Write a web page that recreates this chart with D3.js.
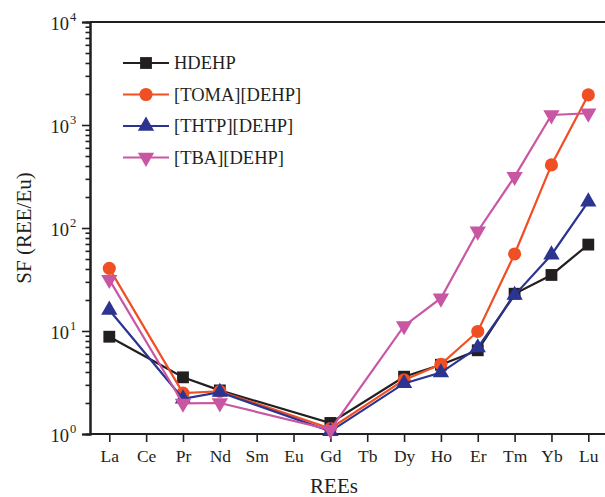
<!DOCTYPE html>
<html>
<head>
<meta charset="utf-8">
<script src="https://d3js.org/d3.v7.min.js"></script>
<style>
  body { margin: 0; background: #fff; }
  svg { display: block; }
  text { font-family: "Liberation Serif", "Times New Roman", serif; fill: #231f20; }
</style>
</head>
<body>
<div id="main-view-container"></div>
<script>
// Chart data
//

var elements = ["La", "Ce", "Pr", "Nd", "Sm", "Eu", "Gd", "Tb", "Dy", "Ho", "Er", "Tm", "Yb", "Lu"];
var series_names = ["HDEHP", "[TOMA][DEHP]", "[THTP][DEHP]", "[TBA][DEHP]"];

// null = not measured (Ce, Sm, Eu, Tb)
var hdehp = [8.8, null, 3.55, 2.65, null, null, 1.28, null, 3.6, 4.7, 6.5, 23, 35, 69];
var toma_dehp = [40.6, null, 2.5, 2.6, null, null, 1.13, null, 3.35, 4.75, 9.9, 56, 410, 1960];
var thtp_dehp = [16, null, 2.2, 2.55, null, null, 1.06, null, 3.1, 3.95, 6.9, 22.3, 55, 180];
var tba_dehp = [31.5, null, 1.98, 2.0, null, null, 1.1, null, 11.2, 20.8, 93, 315, 1250, 1300];

var y_major = [1, 10, 100, 1000, 10000];

// Helper functions
//

function minor_ticks(lo, hi) {
  // returns 2..9 times every decade between lo and hi
  var out = [];
  for (var d = lo; d < hi; d *= 10) {
    for (var k = 2; k <= 9; k++) {
      out.push(d * k);
    }
  }
  return out;
}

function to_points(values) {
  // pairs each value with its element, drops the missing ones
  var pts = [];
  values.forEach(function(v, i) {
    if (v !== null) {
      pts.push({ el: elements[i], value: v });
    }
  });
  return pts;
}

// Drawing
//

var width = 605, height = 497;
var plot = { left: 90, right: 607, top: 22, bottom: 434 };

var svg = d3.select("#main-view-container").append("svg")
  .attr("width", width)
  .attr("height", height);

var x_scale = d3.scalePoint()
  .domain(elements)
  .range([109.3, 588.3]);

var y_scale = d3.scaleLog()
  .domain([1, 10000])
  .range([plot.bottom, plot.top]);

var series = [
  { name: series_names[0], values: hdehp, color: "#231f20", symbol: d3.symbolSquare, size: 140, rotate: 0 },
  { name: series_names[1], values: toma_dehp, color: "#f04e23", symbol: d3.symbolCircle, size: 135, rotate: 0 },
  { name: series_names[2], values: thtp_dehp, color: "#2b3491", symbol: d3.symbolTriangle, size: 115, rotate: 0 },
  { name: series_names[3], values: tba_dehp, color: "#c956a3", symbol: d3.symbolTriangle, size: 115, rotate: 180 }
];

// top frame line
svg.append("line")
  .attr("x1", plot.left).attr("x2", plot.right)
  .attr("y1", plot.top).attr("y2", plot.top)
  .attr("stroke", "#231f20")
  .attr("stroke-width", 2);

// y axis: minor ticks, then major ticks with labels
var y_minor = svg.append("g")
  .attr("transform", "translate(" + plot.left + ",0)")
  .call(d3.axisLeft(y_scale).tickValues(minor_ticks(1, 10000)).tickSize(4.5).tickFormat(""));

var y_axis = svg.append("g")
  .attr("transform", "translate(" + plot.left + ",0)")
  .call(d3.axisLeft(y_scale).tickValues(y_major).tickSize(8).tickFormat(""));

[y_minor, y_axis].forEach(function(g) {
  g.select(".domain").attr("stroke", "#231f20").attr("stroke-width", 2);
  g.selectAll(".tick line").attr("stroke", "#231f20").attr("stroke-width", 1.6);
});

var y_labels = svg.append("g");
y_major.forEach(function(v) {
  var t = y_labels.append("text")
    .attr("x", 69)
    .attr("y", y_scale(v) + 8)
    .attr("text-anchor", "end")
    .style("font-size", "18.5px")
    .text("10");
  y_labels.append("text")
    .attr("x", 70)
    .attr("y", y_scale(v) - 1)
    .attr("text-anchor", "start")
    .style("font-size", "12.5px")
    .text(String(Math.round(Math.log10(v))));
});

// x axis
var x_axis = svg.append("g")
  .attr("transform", "translate(0," + plot.bottom + ")")
  .call(d3.axisBottom(x_scale).tickSize(8).tickPadding(8).tickSizeOuter(0));

x_axis.select(".domain")
  .attr("d", "M" + plot.left + ",0H" + plot.right)
  .attr("stroke", "#231f20").attr("stroke-width", 2);
x_axis.selectAll(".tick line").attr("stroke", "#231f20").attr("stroke-width", 1.6);
x_axis.selectAll(".tick text")
  .style("font-size", "17.5px")
  .style("font-family", "Liberation Serif, serif")
  .attr("fill", "#231f20");

// axis titles
svg.append("text")
  .attr("x", 334)
  .attr("y", 493)
  .attr("text-anchor", "middle")
  .style("font-size", "21px")
  .text("REEs");

svg.append("text")
  .attr("transform", "translate(31,228) rotate(-90)")
  .attr("text-anchor", "middle")
  .style("font-size", "21px")
  .text("SF (REE/Eu)");

// series lines and markers
var line = d3.line()
  .x(function(d) { return x_scale(d.el); })
  .y(function(d) { return y_scale(d.value); });

series.forEach(function(s) {
  var pts = to_points(s.values);
  var g = svg.append("g");
  g.append("path")
    .datum(pts)
    .attr("d", line)
    .attr("fill", "none")
    .attr("stroke", s.color)
    .attr("stroke-width", 2.2);
  g.selectAll("path.marker")
    .data(pts)
    .enter()
    .append("path")
    .attr("class", "marker")
    .attr("d", d3.symbol().type(s.symbol).size(s.size))
    .attr("fill", s.color)
    .attr("transform", function(d) {
      return "translate(" + x_scale(d.el) + "," + y_scale(d.value) + ") rotate(" + s.rotate + ")";
    });
});

// legend
var legend = svg.append("g");
series.forEach(function(s, i) {
  var y = 63 + i * 31.5;
  legend.append("line")
    .attr("x1", 123).attr("x2", 169)
    .attr("y1", y).attr("y2", y)
    .attr("stroke", s.color)
    .attr("stroke-width", 2.2);
  legend.append("path")
    .attr("d", d3.symbol().type(s.symbol).size(s.size))
    .attr("fill", s.color)
    .attr("transform", "translate(146," + y + ") rotate(" + s.rotate + ")");
  legend.append("text")
    .attr("x", 174)
    .attr("y", y)
    .attr("dy", "0.35em")
    .style("font-size", "18.5px")
    .text(s.name);
});
</script>
</body>
</html>
